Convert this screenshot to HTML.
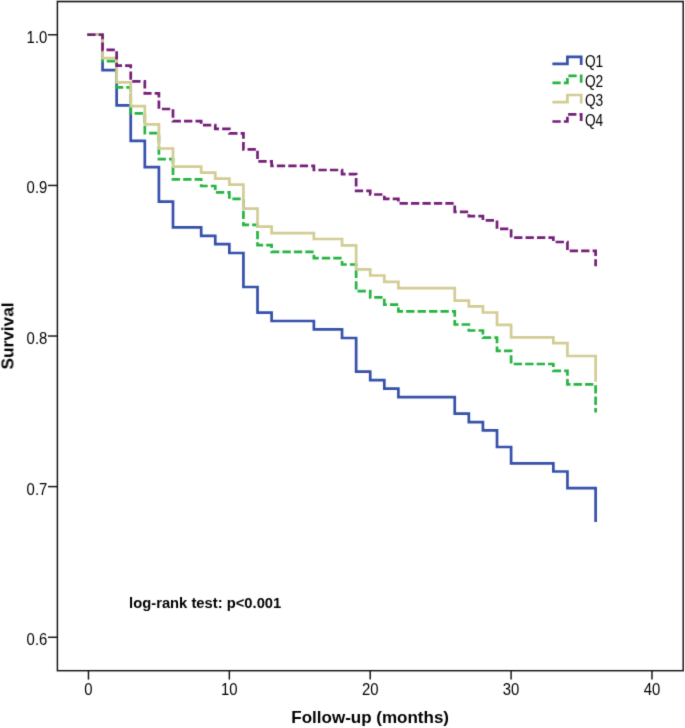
<!DOCTYPE html>
<html><head><meta charset="utf-8"><title>Kaplan-Meier survival</title>
<style>
html,body{margin:0;padding:0;background:#fff;}
body{width:685px;height:728px;overflow:hidden;}
svg{display:block;}
.t{font-family:"Liberation Sans",sans-serif;font-size:16px;fill:#000;}
.b15{font-family:"Liberation Sans",sans-serif;font-size:15px;font-weight:bold;fill:#000;}
.b18{font-family:"Liberation Sans",sans-serif;font-size:17.3px;font-weight:bold;fill:#000;}
.b17{font-family:"Liberation Sans",sans-serif;font-size:17px;font-weight:bold;fill:#000;}
</style></head><body>
<svg width="685" height="728" viewBox="0 0 685 728">
<defs><filter id="bl" color-interpolation-filters="sRGB" filterUnits="userSpaceOnUse" x="0" y="0" width="685" height="728"><feConvolveMatrix order="3" kernelMatrix="0.0144 0.0912 0.0144 0.0912 0.5776 0.0912 0.0144 0.0912 0.0144" divisor="1" edgeMode="duplicate"/></filter></defs>
<g filter="url(#bl)">
<rect width="685" height="728" fill="#fff"/>
<line x1="56" y1="0.5" x2="684.5" y2="0.5" stroke="#dadada" stroke-width="1"/>
<rect x="57.4" y="1.6" width="625.8" height="669.1" fill="none" stroke="#111" stroke-width="1.45"/>
<line x1="48" y1="34.77" x2="57.4" y2="34.77" stroke="#111" stroke-width="1.45"/>
<text transform="translate(47.3 42.77) scale(0.93 1)" text-anchor="end" class="t">1.0</text>
<line x1="48" y1="185.45" x2="57.4" y2="185.45" stroke="#111" stroke-width="1.45"/>
<text transform="translate(47.3 193.45) scale(0.93 1)" text-anchor="end" class="t">0.9</text>
<line x1="48" y1="336.03" x2="57.4" y2="336.03" stroke="#111" stroke-width="1.45"/>
<text transform="translate(47.3 344.03) scale(0.93 1)" text-anchor="end" class="t">0.8</text>
<line x1="48" y1="486.6" x2="57.4" y2="486.6" stroke="#111" stroke-width="1.45"/>
<text transform="translate(47.3 494.60) scale(0.93 1)" text-anchor="end" class="t">0.7</text>
<line x1="48" y1="637.3" x2="57.4" y2="637.3" stroke="#111" stroke-width="1.45"/>
<text transform="translate(47.3 645.30) scale(0.93 1)" text-anchor="end" class="t">0.6</text>
<line x1="88.47" y1="670.7" x2="88.47" y2="679.6" stroke="#111" stroke-width="1.45"/>
<text transform="translate(88.47 695.4) scale(0.93 1)" text-anchor="middle" class="t">0</text>
<line x1="229.35" y1="670.7" x2="229.35" y2="679.6" stroke="#111" stroke-width="1.45"/>
<text transform="translate(229.35 695.4) scale(0.93 1)" text-anchor="middle" class="t">10</text>
<line x1="370.22" y1="670.7" x2="370.22" y2="679.6" stroke="#111" stroke-width="1.45"/>
<text transform="translate(370.22 695.4) scale(0.93 1)" text-anchor="middle" class="t">20</text>
<line x1="511.1" y1="670.7" x2="511.1" y2="679.6" stroke="#111" stroke-width="1.45"/>
<text transform="translate(511.1 695.4) scale(0.93 1)" text-anchor="middle" class="t">30</text>
<line x1="651.97" y1="670.7" x2="651.97" y2="679.6" stroke="#111" stroke-width="1.45"/>
<text transform="translate(651.97 695.4) scale(0.93 1)" text-anchor="middle" class="t">40</text>
<g fill="none" stroke-width="2.7" stroke-linejoin="miter" stroke-linecap="butt">
<path d="M87.27 34.77 V34.77 H102.56 V70.20 H116.64 V105.40 H130.73 V140.80 H144.82 V167.20 H158.91 V201.60 H173.00 V227.40 H201.17 V235.90 H215.26 V244.20 H229.34 V253.00 H243.43 V287.00 H257.52 V312.60 H271.61 V321.00 H313.87 V329.40 H342.05 V338.00 H356.13 V371.60 H370.22 V380.10 H384.31 V388.60 H398.39 V397.10 H454.75 V413.60 H468.83 V422.10 H482.92 V430.30 H497.01 V447.00 H511.10 V463.40 H553.36 V471.50 H567.45 V488.20 H595.62 V522.10" stroke="#3650aa"/>
<path d="M87.27 34.77 V34.77 H102.56 V61.10 H116.64 V87.30 H130.73 V113.40 H144.82 V133.20 H158.91 V159.10 H173.00 V179.30 H201.17 V186.00 H215.26 V192.40 H229.34 V198.80 H243.43 V224.80 H257.52 V245.10 H271.61 V251.80 H313.87 V258.20 H342.05 V264.50 H356.13 V291.20 H370.22 V297.40 H384.31 V304.60 H398.39 V311.30 H454.75 V324.50 H468.83 V330.50 H482.92 V337.60 H497.01 V350.80 H511.10 V364.00 H553.36 V370.80 H567.45 V384.30 H595.62 V412.50" stroke="#26b442" stroke-dasharray="8.32 3.13"/>
<path d="M87.27 34.77 V34.77 H102.56 V58.20 H116.64 V82.40 H130.73 V106.20 H144.82 V124.30 H158.91 V148.50 H173.00 V166.70 H201.17 V172.60 H215.26 V178.60 H229.34 V184.60 H243.43 V208.70 H257.52 V226.70 H271.61 V233.10 H313.87 V239.00 H342.05 V245.30 H356.13 V269.30 H370.22 V275.50 H384.31 V281.80 H398.39 V288.20 H454.75 V300.60 H468.83 V306.40 H482.92 V312.50 H497.01 V324.90 H511.10 V337.30 H553.36 V343.20 H567.45 V356.00 H595.62 V381.70" stroke="#d2cc94"/>
<path d="M87.27 34.77 V34.77 H102.56 V49.90 H116.64 V65.60 H130.73 V81.40 H144.82 V93.30 H158.91 V109.00 H173.00 V121.20 H201.17 V125.20 H215.26 V128.90 H229.34 V133.30 H243.43 V149.30 H257.52 V161.40 H271.61 V165.80 H313.87 V170.00 H342.05 V174.10 H356.13 V190.90 H370.22 V194.50 H384.31 V198.80 H398.39 V203.40 H454.75 V211.80 H468.83 V216.20 H482.92 V220.30 H497.01 V228.90 H511.10 V237.70 H553.36 V242.00 H567.45 V250.80 H595.62 V266.30" stroke="#741e78" stroke-dasharray="8.32 3.13"/>
<path d="M552.4 63.8 H567.4 V56.9 H581.2 V65.1" stroke="#3650aa"/>
<path d="M552.4 82.85 H567.4 V75.9 H581.2 V84.14999999999999" stroke="#26b442" stroke-dasharray="8.32 3.13"/>
<path d="M552.4 102.2 H567.4 V95.0 H581.2 V103.5" stroke="#d2cc94"/>
<path d="M552.4 121.5 H567.4 V114.3 H581.2 V122.8" stroke="#741e78" stroke-dasharray="8.32 3.13"/>
</g>
<text transform="translate(584.9 67.2) scale(0.86 1)" class="t">Q1</text>
<text transform="translate(584.9 87.0) scale(0.86 1)" class="t">Q2</text>
<text transform="translate(584.9 105.9) scale(0.86 1)" class="t">Q3</text>
<text transform="translate(584.9 126.0) scale(0.86 1)" class="t">Q4</text>
<text transform="translate(129.1 608.4) scale(0.985 1)" class="b15">log-rank test: p&lt;0.001</text>
<text x="370.2" y="723.4" text-anchor="middle" class="b17">Follow-up (months)</text>
<text transform="translate(13.4 336) rotate(-90)" text-anchor="middle" class="b18">Survival</text>
</g>
</svg>
</body></html>
